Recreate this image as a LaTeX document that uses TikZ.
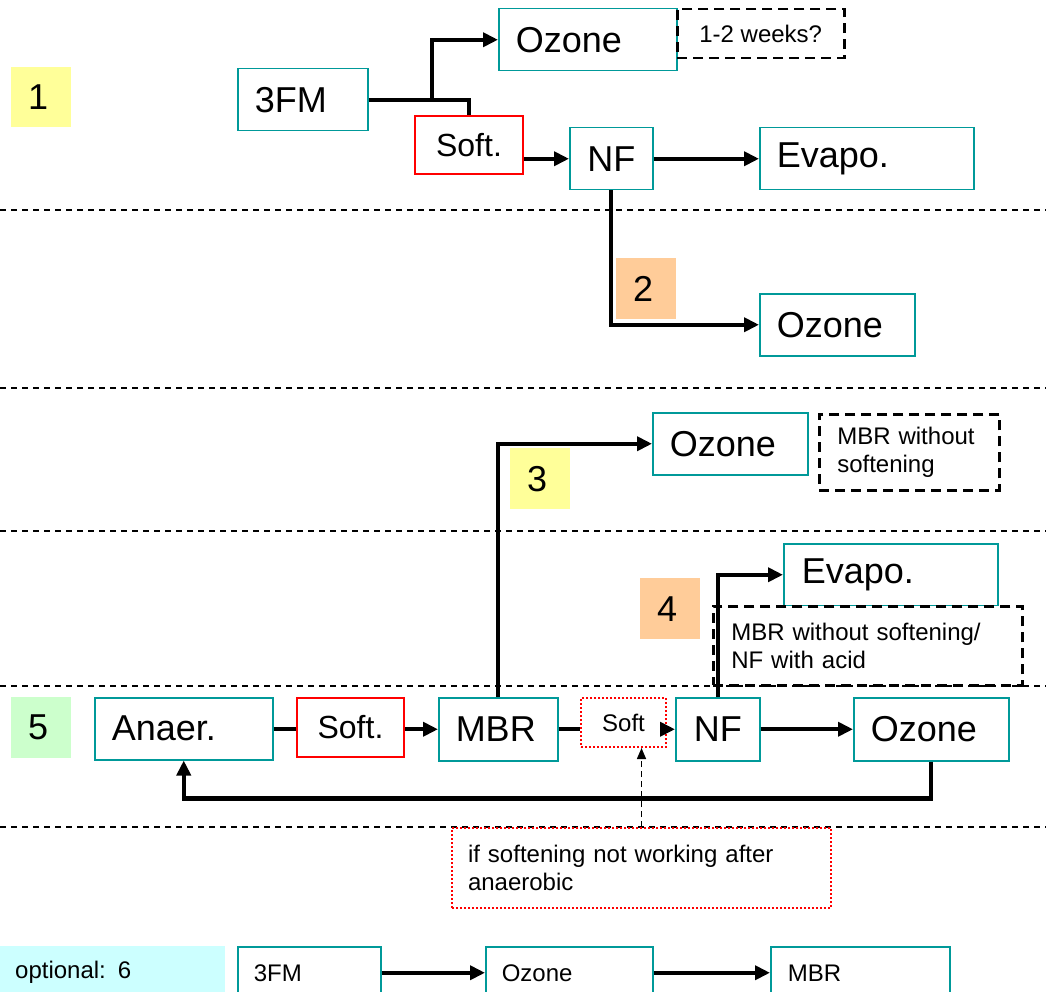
\documentclass[tikz,border=0pt]{standalone}
\usepackage{fontspec}
\setmainfont{Liberation Sans}
\usetikzlibrary{arrows.meta,calc}
\definecolor{tealc}{RGB}{0,153,153}
\definecolor{labyellow}{HTML}{FFFF99}
\definecolor{laborange}{HTML}{FFCC99}
\definecolor{labgreen}{HTML}{CCFFCC}
\definecolor{labcyan}{HTML}{CCFFFF}
\newcommand\fsBig{\fontsize{36}{40}\selectfont}
\newcommand\fsMid{\fontsize{32}{36}\selectfont}
\newcommand\fsSmall{\fontsize{24}{28.5}\selectfont}
\begin{document}
\begin{tikzpicture}[x=1pt,y=-1pt,
  box/.style={draw=tealc, line width=1.5pt, fill=white, inner xsep=17pt, inner ysep=0pt,
    anchor=north west, align=left, font=\fsBig},
  cbox/.style={draw=tealc, line width=1.5pt, fill=white, inner sep=0pt,
    anchor=north west, align=center, font=\fsBig},
  redbox/.style={draw=red, line width=2pt, fill=white, inner sep=0pt,
    anchor=north west, align=center, font=\fsMid},
  dotbox/.style={draw=red, line width=2pt, dash pattern=on 2pt off 2pt, fill=white,
    anchor=north west, font=\fsSmall},
  dashbox/.style={draw=black, line width=2.5pt, dash pattern=on 10pt off 6pt,
    anchor=north west, font=\fsSmall},
  labbox/.style={inner xsep=17pt, inner ysep=0pt, anchor=north west, text width=26pt,
    align=left, font=\fsBig},
  conn/.style={line width=4.3pt, -{Triangle[length=15pt,width=14pt]}},
  plainconn/.style={line width=4.3pt},
  sepline/.style={line width=1.2pt, dash pattern=on 6pt off 5pt},
  dasharrow/.style={line width=1.5pt, dash pattern=on 6pt off 4pt, -{Triangle[length=11pt,width=9pt]}}
]
\useasboundingbox (0,0) rectangle (1046,992);

% separators
\foreach \yy in {210,388,531,686,827} \draw[sepline] (0,\yy) -- (1046,\yy);

% ---------- section 1 & 2
\node[labbox, fill=labyellow, minimum height=60pt] (lab1) at (11,67) {1};
\node[box, text width=96pt, minimum height=62pt] (tfm1) at (237,68) {3FM};
\node[box, text width=144pt, minimum height=62pt] (oz1) at (498,8) {Ozone};
\node[dashbox, minimum width=167pt, minimum height=49pt, inner sep=0pt] (wk) at (676,8) {1-2 weeks?};
\node[redbox, minimum width=108pt, minimum height=58pt] (soft1) at (414,115) {Soft.};
\node[cbox, minimum width=83pt, minimum height=62pt] (nf1) at (569,127) {NF};
\node[box, text width=180pt, minimum height=62pt] (ev1) at (759,127) {Evapo.};
\node[labbox, fill=laborange, minimum height=61pt] (lab2) at (616,258) {2};
\node[box, text width=121pt, minimum height=62pt] (oz2) at (759,293) {Ozone};

\coordinate (br) at (432,99);
\draw[plainconn] (tfm1.east) -- (tfm1.east -| soft1.north) -- (soft1.north);
\draw[conn] (br) |- (oz1.west);
\draw[conn] (soft1.east |- nf1.west) -- (nf1.west);
\draw[conn] (nf1.east) -- (ev1.west);
\draw[conn] (nf1.south) |- (oz2.west);

% ---------- section 3
\node[box, text width=121pt, minimum height=62pt] (oz3) at (652,412) {Ozone};
\node[dashbox, text width=144pt, minimum height=76pt, inner xsep=18pt, inner ysep=0pt, align=left] (note3) at (818,413) {MBR without\\softening};
\node[labbox, fill=labyellow, minimum height=61pt] (lab3) at (510,448) {3};

% ---------- section 4
\node[box, text width=178pt, minimum height=62pt, inner xsep=18pt] (ev4) at (783,543) {Evapo.};
\node[labbox, fill=laborange, minimum height=61pt] (lab4) at (640,578) {4};
\node[dashbox, fill=white, text width=273pt, minimum height=79pt, inner xsep=18pt, inner ysep=0pt, align=left] (note4) at (712,605) {MBR without softening/\\NF with acid};

% ---------- section 5
\node[labbox, fill=labgreen, minimum height=61pt] (lab5) at (11,697) {5};
\node[box, text width=144pt, minimum height=62pt] (an) at (94,697) {Anaer.};
\node[redbox, minimum width=107pt, minimum height=59pt] (soft5) at (296,697) {Soft.};
\node[box, text width=85pt, minimum height=63pt] (mbr) at (438,697) {MBR};
\node[dotbox, minimum width=85pt, minimum height=49pt, inner sep=0pt] (sd) at (580,697) {Soft};
\node[cbox, minimum width=84pt, minimum height=63pt] (nf5) at (675,697) {NF};
\node[box, text width=121pt, minimum height=63pt] (oz5) at (853,697) {Ozone};

\draw[conn] (mbr.north) |- (oz3.west);
\draw[conn] (nf5.north) |- (ev4.west);
\draw[plainconn] (an.east) -- (an.east -| soft5.west);
\draw[conn] (soft5.east |- mbr.west) -- (mbr.west);
\draw[plainconn] (mbr.east) -- (mbr.east -| sd.west);
\draw[conn] (sd.east |- nf5.west) -- (nf5.west);
\draw[conn] (nf5.east) -- (oz5.west);
\draw[conn] (oz5.south) -- ++(0,37) -| (an.south);

% comment
\node[dotbox, text width=347pt, minimum height=80pt, inner xsep=16pt, inner ysep=0pt, align=left] (cmt) at (451,827) {if softening not working after\\anaerobic};
\draw[dasharrow] (cmt.north) -- (cmt.north |- sd.south);

% ---------- section 6
\node[inner xsep=15pt, inner ysep=0pt, fill=labcyan, anchor=north west, text width=195pt, minimum height=52pt, align=left, font=\fsSmall] (lab6) at (0,946) {optional: 6};
\node[box, font=\fsSmall, text width=111pt, inner xsep=16pt, minimum height=52pt] (tfm6) at (237,946) {3FM};
\node[box, font=\fsSmall, text width=135pt, inner xsep=16pt, minimum height=52pt] (oz6) at (485,946) {Ozone};
\node[box, font=\fsSmall, text width=145pt, inner xsep=17pt, minimum height=52pt] (mbr6) at (770,946) {MBR};
\draw[conn] (tfm6.east) -- (oz6.west);
\draw[conn] (oz6.east) -- (mbr6.west);
\end{tikzpicture}
\end{document}
